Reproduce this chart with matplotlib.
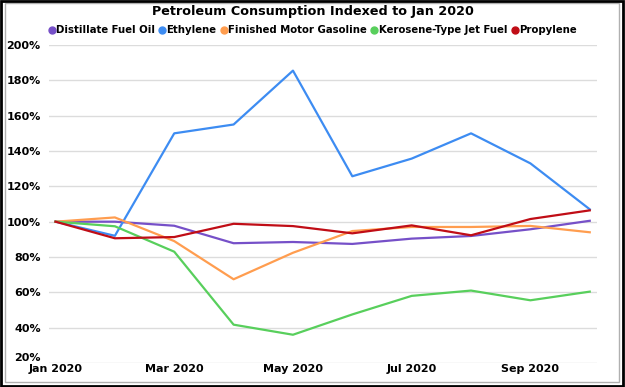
import numpy as np
import matplotlib
matplotlib.use('Agg')
import matplotlib.pyplot as plt
from matplotlib.patches import Rectangle
from matplotlib.ticker import FuncFormatter

months = ['Jan 2020', 'Feb 2020', 'Mar 2020', 'Apr 2020', 'May 2020',
          'Jun 2020', 'Jul 2020', 'Aug 2020', 'Sep 2020', 'Oct 2020']
distillate = [100, 100, 97.7, 87.8, 88.5, 87.4, 90.4, 91.9, 95.7, 100.5]
ethylene = [100, 92, 150, 155, 185.5, 125.7, 135.7, 150, 133, 107]
gasoline = [100, 102.4, 89, 67.4, 82.4, 94.7, 97, 97, 97.6, 94]
jet_fuel = [100, 97.4, 83, 41.7, 36, 47.5, 58, 61, 55.5, 60.4]
propylene = [100, 90.6, 91.3, 98.8, 97.5, 93.4, 97.9, 92.3, 101.5, 106.4]

series = [('Distillate Fuel Oil', distillate, '#7650C8'),
          ('Ethylene', ethylene, '#3D8CF2'),
          ('Finished Motor Gasoline', gasoline, '#FF9D4F'),
          ('Kerosene-Type Jet Fuel', jet_fuel, '#58CF5C'),
          ('Propylene', propylene, '#C00D16')]

plt.rcParams['font.family'] = ['DejaVu Sans']
fig = plt.figure(figsize=(6.25, 3.87), dpi=100)
ax = fig.add_axes([0.0784, 0.062, 0.8766, 0.8217])

x = np.arange(len(months))
for name, vals, col in series:
    ax.plot(x, vals, color=col, lw=1.6, label=name)

ax.set_xlim(-0.11, 9.12)
ax.set_ylim(20, 200)
ax.set_yticks(np.arange(20, 201, 20))
ax.yaxis.set_major_formatter(FuncFormatter(lambda v, p: '%d%%' % v))
ax.set_xticks(x[::2])
ax.set_xticklabels(months[::2])
ax.grid(axis='y', color='#dcdcdc', lw=1)
ax.set_axisbelow(True)
for s in ax.spines.values():
    s.set_visible(False)
ax.tick_params(length=0, labelsize=8, pad=0.5)
ax.tick_params(axis='y', pad=6)
for t in ax.get_xticklabels() + ax.get_yticklabels():
    t.set_fontweight('bold')
# 20% label sits a little above its gridline, as in the source chart
ax.get_yticklabels()[0].set_verticalalignment('bottom')

fig.suptitle('Petroleum Consumption Indexed to Jan 2020', y=0.988,
             fontsize=9.2, fontweight='bold')
leg = fig.legend(loc='center', bbox_to_anchor=(0.5, 0.922), ncol=5,
                 frameon=False, handlelength=0.6, handletextpad=0.1,
                 columnspacing=0.45, prop={'size': 7.3, 'weight': 'bold'})
for h in leg.legend_handles:
    h.set_linestyle('')
    h.set_marker('o')
    h.set_markersize(5)

# chart border and outer frame
fig.patches.append(Rectangle((5 / 625, 5 / 387), 614 / 625, 379 / 387,
                             transform=fig.transFigure, fill=False,
                             edgecolor='#b0b0b0', lw=1))
fig.patches.append(Rectangle((0.002, 0.003), 0.995, 0.994,
                             transform=fig.transFigure, fill=False,
                             edgecolor='black', lw=2))

fig.savefig('out.png', dpi=100)
